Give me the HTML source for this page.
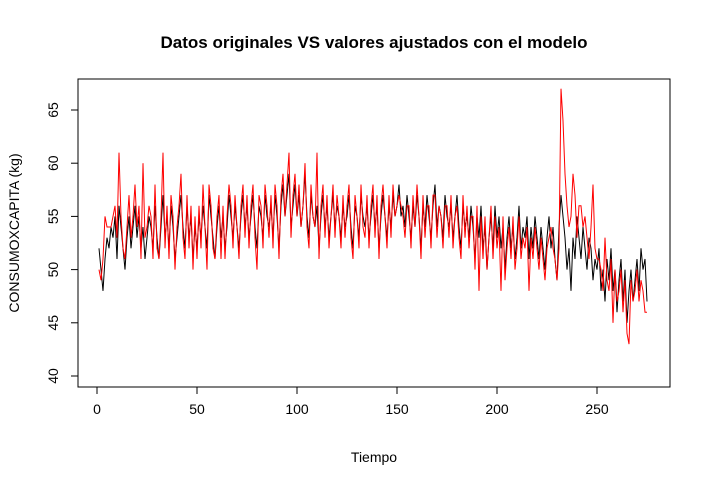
<!DOCTYPE html>
<html><head><meta charset="utf-8"><style>
html,body{margin:0;padding:0;background:#fff;}
svg{display:block;font-family:"Liberation Sans",Arial,sans-serif;}
</style></head><body>
<svg id="chart" width="711" height="486" viewBox="0 0 711 486">
<text x="374" y="48" text-anchor="middle" font-size="17" font-weight="bold">Datos originales VS valores ajustados con el modelo</text>
<text x="374" y="462" text-anchor="middle" font-size="14">Tiempo</text>
<text transform="translate(19,233) rotate(-90)" text-anchor="middle" font-size="14">CONSUMOXCAPITA (kg)</text>
<rect x="78" y="79" width="592" height="308" fill="none" stroke="#000" stroke-width="1"/>
<g id="xaxis"></g>
<g id="yaxis"></g>
<g id="series"></g>
</svg>
<script>
const xTicks=[0,50,100,150,200,250];
const yTicks=[40,45,50,55,60,65];
const original=[52,50,48,51,53,52,54,53,55,51,56,54,52,50,53,55,52,54,56,53,55,52,54,51,53,
55,54,52,56,53,51,54,57,53,55,52,56,54,51,53,55,57,54,52,56,53,55,51,54,52,
55,53,56,54,52,57,55,53,51,54,56,53,55,52,54,57,55,53,56,54,52,55,57,54,56,
53,55,57,54,52,56,55,53,57,55,54,56,53,57,55,52,56,58,55,57,59,54,56,58,55,
57,54,56,59,55,53,57,55,54,56,52,55,57,54,56,53,55,57,54,56,55,53,56,54,55,
57,54,52,56,55,53,57,55,54,56,53,55,57,54,56,52,55,57,55,53,56,54,57,55,56,
58,55,56,54,57,55,53,56,54,57,55,52,56,54,57,55,53,56,58,54,56,55,53,57,55,
54,56,53,55,57,54,52,56,54,55,53,56,54,51,55,53,56,52,54,50,53,55,52,56,53,
55,52,54,50,53,55,52,54,51,53,56,52,54,53,55,51,54,52,55,53,51,54,52,50,53,
55,52,54,51,49,54,57,55,53,50,52,48,53,51,55,53,51,54,52,50,53,52,49,51,50,
52,48,50,47,51,49,52,48,50,46,49,51,47,50,45,48,50,47,49,51,48,52,50,51,47];
const fitted=[50,49,51,55,54,54,54,55,56,53,61,55,52,51,54,57,53,55,58,54,56,51,60,53,54,
56,55,51,58,52,51,55,61,52,56,51,57,55,50,54,56,59,53,51,57,52,56,50,55,51,
56,52,58,54,50,58,56,52,51,55,57,51,56,51,55,58,56,52,57,54,51,56,58,53,57,
52,56,58,53,50,57,56,52,58,56,53,57,52,58,56,51,57,59,55,58,61,53,57,59,55,
58,54,56,60,54,52,58,55,54,61,51,56,58,53,57,52,55,58,53,57,55,52,57,53,56,
58,53,51,57,55,52,58,54,53,57,52,56,58,53,57,51,56,58,55,52,57,53,58,55,56,
57,56,55,53,56,56,52,57,54,58,55,51,57,53,56,56,52,57,57,53,56,55,52,56,56,
53,57,52,55,56,53,51,57,53,56,52,55,55,50,56,48,55,51,55,50,53,56,51,55,52,
54,48,55,49,52,54,51,55,50,52,55,51,53,52,54,48,53,51,54,52,50,53,51,49,52,
53,54,52,51,49,52,67,64,59,56,54,55,59,57,53,56,56,54,55,53,51,54,58,52,51,
51,50,48,53,49,48,51,45,50,47,48,50,46,49,44,43,49,47,48,50,47,49,48,46,46];
const NS='http://www.w3.org/2000/svg';
const xs=t=>97+2*t;
const ys=v=>376-(v-40)*10.64;
function mk(tag,attrs,parent){const e=document.createElementNS(NS,tag);for(const k in attrs)e.setAttribute(k,attrs[k]);parent.appendChild(e);return e;}
const xg=document.getElementById('xaxis'),yg=document.getElementById('yaxis'),sg=document.getElementById('series');
mk('line',{x1:xs(xTicks[0]),x2:xs(xTicks[xTicks.length-1]),y1:387,y2:387,stroke:'#000'},xg);
xTicks.forEach(t=>{
  const l=mk('line',{x1:xs(t),x2:xs(t),y1:387,y2:394,stroke:'#000'},xg);
  
  
  const tx=mk('text',{x:xs(t),y:414,'text-anchor':'middle','font-size':14},xg);
  tx.textContent=t;
  
  
});
mk('line',{x1:78,x2:78,y1:ys(yTicks[0]),y2:ys(yTicks[yTicks.length-1]),stroke:'#000'},yg);
yTicks.forEach(v=>{
  const l=mk('line',{x1:71,x2:78,y1:ys(v),y2:ys(v),stroke:'#000'},yg);
  
  
  const tx=mk('text',{transform:`translate(58,${ys(v)}) rotate(-90)`,'text-anchor':'middle','font-size':14},yg);
  tx.textContent=v;
  
  
});
function line(arr,color,name){
  const d=arr.map((v,i)=>(i?'L':'M')+xs(i+1).toFixed(1)+','+ys(v).toFixed(1)).join('');
  const p=mk('path',{d:d,fill:'none',stroke:color,'stroke-width':1},sg);
  
  
}
line(original,'#000','original-series-line');
line(fitted,'#f00','fitted-series-line');
</script>
</body></html>
